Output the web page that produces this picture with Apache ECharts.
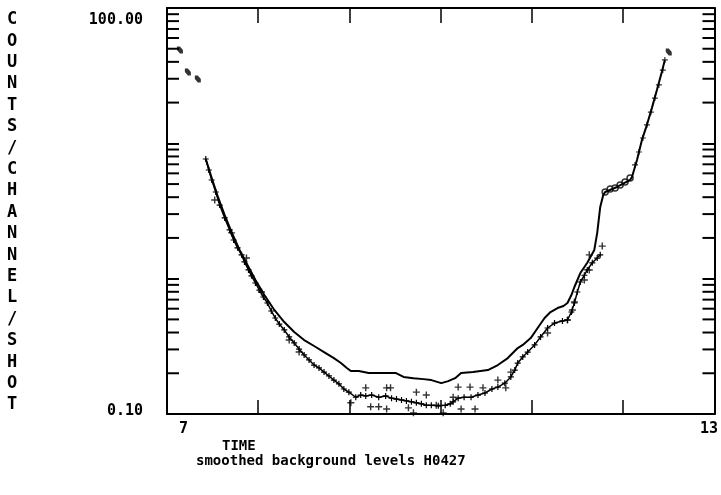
<!DOCTYPE html>
<html><head><meta charset="utf-8">
<script src="https://cdn.jsdelivr.net/npm/echarts@6/dist/echarts.min.js"></script>
<style>html,body{margin:0;padding:0;background:#fff}#c{width:721px;height:495px}</style>
</head><body><div id="c"></div>
<script>
const yTitle = 'COUNTS/CHANNEL/SHOT';
const xTitle = 'TIME';
const caption = 'smoothed background levels H0427';
const xTickLabels = {7: '7', 13: '13'};
const yTickLabels = {'0.1': '0.10', '100': '100.00'};

// smoothed background (upper solid curve)
const smoothT = [7.425,7.490,7.555,7.632,7.708,7.795,7.882,7.969,8.067,8.176,8.285,8.394,8.503,8.612,8.721,8.829,8.906,8.971,9.015,9.102,9.211,9.374,9.505,9.592,9.701,9.810,9.897,10.006,10.082,10.158,10.223,10.354,10.517,10.626,10.735,10.844,10.899,10.986,11.062,11.138,11.203,11.280,11.345,11.389,11.432,11.465,11.530,11.606,11.683,11.715,11.748,11.781,11.802,11.933,12.075,12.096,12.151,12.205,12.260,12.314,12.369,12.423,12.456];
const smoothC = [7.66,5.54,4.08,2.95,2.21,1.63,1.26,0.978,0.757,0.587,0.478,0.404,0.352,0.318,0.287,0.259,0.238,0.219,0.208,0.208,0.201,0.201,0.201,0.188,0.184,0.181,0.178,0.169,0.175,0.184,0.201,0.204,0.211,0.230,0.259,0.307,0.324,0.364,0.432,0.512,0.567,0.607,0.628,0.661,0.757,0.868,1.10,1.31,1.63,2.18,3.39,4.15,4.37,4.76,5.36,5.64,7.53,10.6,13.7,18.2,24.8,33.7,41.3];

// measured levels (lower curve with + marks)
const dataT = [7.425,7.458,7.490,7.534,7.577,7.632,7.686,7.730,7.773,7.817,7.849,7.893,7.926,7.969,8.013,8.056,8.100,8.143,8.187,8.231,8.285,8.339,8.394,8.448,8.503,8.557,8.612,8.666,8.721,8.775,8.829,8.884,8.938,8.993,9.069,9.123,9.178,9.243,9.320,9.396,9.461,9.515,9.570,9.624,9.679,9.733,9.788,9.842,9.897,9.973,10.049,10.104,10.136,10.191,10.256,10.332,10.408,10.485,10.561,10.626,10.702,10.768,10.811,10.844,10.899,10.953,11.029,11.094,11.171,11.247,11.334,11.389,11.432,11.465,11.497,11.530,11.574,11.606,11.661,11.715,11.748];
const dataC = [7.66,6.35,5.36,4.37,3.50,2.81,2.29,1.93,1.69,1.50,1.33,1.16,1.05,0.929,0.824,0.732,0.661,0.577,0.512,0.462,0.418,0.371,0.335,0.302,0.273,0.251,0.230,0.219,0.204,0.191,0.178,0.167,0.153,0.145,0.133,0.138,0.136,0.138,0.133,0.136,0.131,0.129,0.127,0.125,0.123,0.121,0.119,0.116,0.116,0.115,0.116,0.119,0.123,0.131,0.133,0.133,0.138,0.143,0.153,0.158,0.169,0.188,0.211,0.238,0.264,0.287,0.324,0.371,0.432,0.470,0.487,0.495,0.567,0.661,0.797,0.945,1.06,1.16,1.31,1.42,1.50];

// scattered individual points
const scatT = [9.178,9.407,9.450,9.232,9.320,9.407,9.015,9.733,9.842,9.646,9.701,10.027,10.191,10.321,10.223,10.376,10.463,10.626,10.713,10.768,10.136,9.951,11.770,11.628,11.628,11.574,11.465,11.443,11.389,11.171,7.523,7.708,7.871,8.035,8.339,8.448];
const scatC = [0.156,0.156,0.156,0.113,0.113,0.109,0.121,0.145,0.138,0.111,0.102,0.102,0.158,0.158,0.109,0.109,0.156,0.178,0.156,0.204,0.133,0.116,1.74,1.50,1.16,0.978,0.672,0.587,0.495,0.397,3.81,2.18,1.42,0.797,0.352,0.287];

// open circles on the step
const circT = [11.802,11.857,11.911,11.966,12.020,12.075];
const circC = [4.37,4.60,4.68,4.92,5.18,5.54];

// markers on the final rise
const riseT = [12.129,12.172,12.216,12.260,12.303,12.347,12.391,12.434,12.456];
const riseC = [6.92,8.63,10.95,13.7,17.0,21.6,27.0,34.8,41.3];

// isolated high marks
const markT = [7.142,7.229,7.338,12.499];
const markC = [48.9,33.7,29.9,47.3];

const minorTickVals = [0.2,0.3,0.4,0.5,0.6,0.7,0.8,0.9,2,3,4,5,6,7,8,9,20,30,40,50,60,70,80,90];

const zip = (a, b) => a.map((v, i) => [v, b[i]]);
const FONT = 'DejaVu Sans Mono';
const PLUS = 'path://M4,0h2v4h4v2h-4v4h-2v-4h-4v-2h4z';
const MARK = 'path://M0,0h5l5,5v5h-5l-5,-5z';

const chart = echarts.init(document.getElementById('c'), null, {renderer: 'canvas'});
const axisLineStyle = {color: '#000', width: 2};
chart.setOption({
  backgroundColor: '#fff',
  animation: false,
  grid: {left: 167, right: 3, top: 8, bottom: 81},
  xAxis: [{
    type: 'value', min: 7, max: 13, interval: 1, position: 'bottom',
    axisLine: {show: true, lineStyle: axisLineStyle},
    axisTick: {show: true, inside: true, length: 14, lineStyle: {color: '#000', width: 1.5}},
    splitLine: {show: false},
    axisLabel: {
      show: true, showMinLabel: true, showMaxLabel: true, margin: 8,
      color: '#000', fontFamily: FONT, fontSize: 15, fontWeight: 'bold',
      formatter: v => xTickLabels[v] ? (v === 7 ? '{l|' + xTickLabels[v] + '}' : '{r|' + xTickLabels[v] + '}') : '',
      rich: {
        l: {padding: [0, 0, 0, 33], fontFamily: FONT, fontSize: 15, fontWeight: 'bold', color: '#000'},
        r: {padding: [0, 11, 0, 0], fontFamily: FONT, fontSize: 15, fontWeight: 'bold', color: '#000'}
      }
    }
  }, {
    type: 'value', min: 7, max: 13, interval: 1, position: 'top',
    axisLine: {show: true, lineStyle: axisLineStyle},
    axisTick: {show: true, inside: true, length: 15, lineStyle: {color: '#000', width: 1.5}},
    splitLine: {show: false}, axisLabel: {show: false}
  }],
  yAxis: [{
    type: 'log', logBase: 10, min: 0.1, max: 100, position: 'left',
    axisLine: {show: true, lineStyle: axisLineStyle},
    axisTick: {show: true, inside: true, length: 12, lineStyle: {color: '#000', width: 2}},
    splitLine: {show: false}, minorTick: {show: false},
    axisLabel: {
      show: true, showMinLabel: true, showMaxLabel: true, margin: 24,
      color: '#000', fontFamily: FONT, fontSize: 15, fontWeight: 'bold',
      formatter: v => {
        if (Math.abs(v - 100) < 1e-6) return '{t|' + yTickLabels['100'] + '}';
        if (Math.abs(v - 0.1) < 1e-9) return '{b|' + yTickLabels['0.1'] + '}';
        return '';
      },
      rich: {
        t: {padding: [24, 0, 0, 0], fontFamily: FONT, fontSize: 15, fontWeight: 'bold', color: '#000'},
        b: {padding: [0, 0, 5, 0], fontFamily: FONT, fontSize: 15, fontWeight: 'bold', color: '#000'}
      }
    }
  }, {
    type: 'log', logBase: 10, min: 0.1, max: 100, position: 'right',
    axisLine: {show: true, lineStyle: axisLineStyle},
    axisTick: {show: true, inside: true, length: 12, lineStyle: {color: '#000', width: 2}},
    splitLine: {show: false}, axisLabel: {show: false}
  }],
  graphic: [
    {type: 'text', left: 7, top: 9, style: {text: yTitle.split('').join('\n'), font: 'bold 17px ' + FONT, lineHeight: 21.4, fill: '#000', align: 'center'}},
    {type: 'text', left: 222, top: 439, style: {text: xTitle, font: 'bold 14px ' + FONT, fill: '#000'}},
    {type: 'text', left: 196, top: 454, style: {text: caption, font: 'bold 14px ' + FONT, fill: '#000'}}
  ],
  series: [
    {
      type: 'custom', xAxisIndex: 0, yAxisIndex: 0, silent: true, clip: false,
      data: minorTickVals.map(v => [7, v]),
      renderItem: (params, api) => {
        const v = api.value(1);
        const pl = api.coord([7, v]);
        const pr = api.coord([13, v]);
        return {type: 'group', children: [
          {type: 'line', shape: {x1: pl[0], y1: pl[1], x2: pl[0] + 12, y2: pl[1]}, style: {stroke: '#000', lineWidth: 2}},
          {type: 'line', shape: {x1: pr[0] - 12, y1: pr[1], x2: pr[0], y2: pr[1]}, style: {stroke: '#000', lineWidth: 2}}
        ]};
      }
    },
    {
      name: 'smoothed', type: 'line', data: zip(smoothT, smoothC), showSymbol: false, symbol: 'none',
      lineStyle: {color: '#000', width: 2}, silent: true
    },
    {
      name: 'levels', type: 'line', data: zip(dataT, dataC), symbol: PLUS, symbolSize: 6, showAllSymbol: true,
      itemStyle: {color: '#000'}, lineStyle: {color: '#000', width: 1.5}, silent: true
    },
    {
      name: 'points', type: 'scatter', data: zip(scatT, scatC), symbol: PLUS, symbolSize: 7,
      itemStyle: {color: '#000'}, silent: true
    },
    {
      name: 'rise', type: 'scatter', data: zip(riseT, riseC), symbol: PLUS, symbolSize: 6,
      itemStyle: {color: '#000'}, silent: true
    },
    {
      name: 'circles', type: 'scatter', data: zip(circT, circC), symbol: 'circle', symbolSize: 6,
      itemStyle: {color: '#fff', borderColor: '#000', borderWidth: 1.5}, silent: true
    },
    {
      name: 'marks', type: 'scatter', data: zip(markT, markC), symbol: MARK, symbolSize: [6, 7],
      itemStyle: {color: '#000'}, silent: true
    }
  ]
});
</script>
</body></html>
